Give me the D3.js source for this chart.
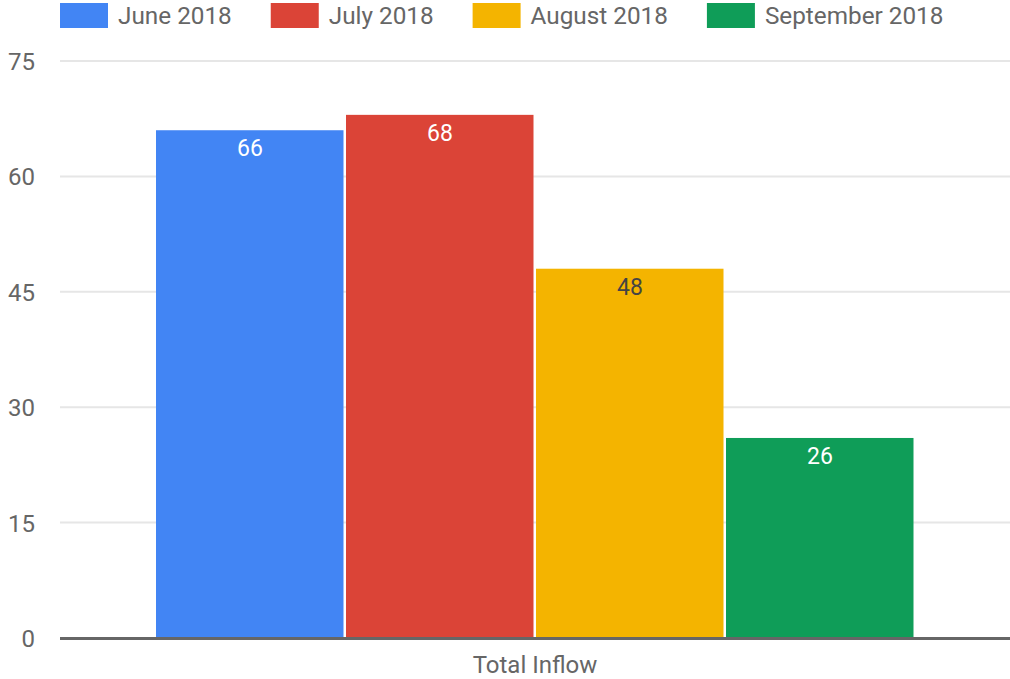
<!DOCTYPE html>
<html>
<head>
<meta charset="utf-8">
<script src="https://cdn.jsdelivr.net/npm/d3@7"></script>
<style>
  body { margin: 0; background: #fff; }
  text { font-family: Roboto, "Noto Sans", sans-serif; }
</style>
</head>
<body>
<div class="chart"></div>
<script>
var categories = ["Total Inflow"];
var seriesNames = ["June 2018", "July 2018", "August 2018", "September 2018"];
var seriesValues = [66, 68, 48, 26];
var seriesColors = ["#4285F4", "#DB4437", "#F4B400", "#0F9D58"];
var labelColors = ["#ffffff", "#ffffff", "#444444", "#ffffff"];
var yTicks = [0, 15, 30, 45, 60, 75];

var svgWidth = 1010;
var svgHeight = 679;

var margin = { top: 61, right: 0, bottom: 41, left: 60 };
var width = svgWidth - margin.left - margin.right;
var height = svgHeight - margin.top - margin.bottom;

var svg = d3.select(".chart")
  .append("svg")
  .attr("width", svgWidth)
  .attr("height", svgHeight);

var chartGroup = svg.append("g")
  .attr("transform", `translate(${margin.left}, ${margin.top})`);

// scales
var x0 = d3.scaleBand()
  .domain(categories)
  .range([0, width])
  .paddingInner(0.2)
  .paddingOuter(0.1);

var x1 = d3.scaleBand()
  .domain(seriesNames)
  .range([0, x0.bandwidth()]);

var y = d3.scaleLinear()
  .domain([0, 75])
  .range([height, 0]);

// gridlines
chartGroup.selectAll(".grid")
  .data(yTicks.filter(d => d > 0))
  .enter()
  .append("line")
  .attr("x1", 0)
  .attr("x2", width)
  .attr("y1", d => y(d))
  .attr("y2", d => y(d))
  .attr("stroke", "#e6e6e6")
  .attr("stroke-width", 2);

// y axis labels
var leftAxis = d3.axisLeft(y).tickValues(yTicks).tickSize(0).tickPadding(25);
var yAxisG = chartGroup.append("g").call(leftAxis);
yAxisG.select(".domain").remove();
yAxisG.selectAll("text")
  .attr("font-family", "Roboto, sans-serif")
  .attr("font-size", "24px")
  .attr("fill", "#666")
  .attr("dy", "0.35em");

// bars
var data = seriesNames.map((s, i) => ({ name: s, value: seriesValues[i], color: seriesColors[i], label: labelColors[i] }));

var groups = chartGroup.selectAll(".cat")
  .data(categories)
  .enter()
  .append("g")
  .attr("transform", d => `translate(${x0(d)}, 0)`);

groups.selectAll("rect")
  .data(data)
  .enter()
  .append("rect")
  .attr("x", d => x1(d.name) + 1)
  .attr("width", x1.bandwidth() - 2.5)
  .attr("y", d => y(d.value))
  .attr("height", d => height - y(d.value))
  .attr("fill", d => d.color);

groups.selectAll(".val")
  .data(data)
  .enter()
  .append("text")
  .attr("x", d => x1(d.name) + x1.bandwidth() / 2)
  .attr("y", d => y(d.value) + 26)
  .attr("text-anchor", "middle")
  .attr("font-size", "23px")
  .attr("fill", d => d.label)
  .text(d => d.value);

// baseline
chartGroup.append("line")
  .attr("x1", 0)
  .attr("x2", width)
  .attr("y1", height + 0.5)
  .attr("y2", height + 0.5)
  .attr("stroke", "#666")
  .attr("stroke-width", 3);

// x label
var bottomAxis = d3.axisBottom(x0).tickSize(0).tickPadding(27);
var xAxisG = chartGroup.append("g")
  .attr("transform", `translate(0, ${height})`)
  .call(bottomAxis);
xAxisG.select(".domain").remove();
xAxisG.selectAll("text")
  .attr("font-family", "Roboto, sans-serif")
  .attr("font-size", "24px")
  .attr("fill", "#666")
  .attr("dy", "0.35em");

// legend
var legend = svg.append("g");
var lx = 60;
data.forEach(function(d) {
  legend.append("rect")
    .attr("x", lx)
    .attr("y", 3)
    .attr("width", 48)
    .attr("height", 25)
    .attr("fill", d.color);
  var t = legend.append("text")
    .attr("x", lx + 58)
    .attr("y", 24)
    .attr("font-size", "24.3px")
    .attr("fill", "#666")
    .text(d.name);
  lx += 58 + t.node().getComputedTextLength() + 39;
});
</script>
</body>
</html>
